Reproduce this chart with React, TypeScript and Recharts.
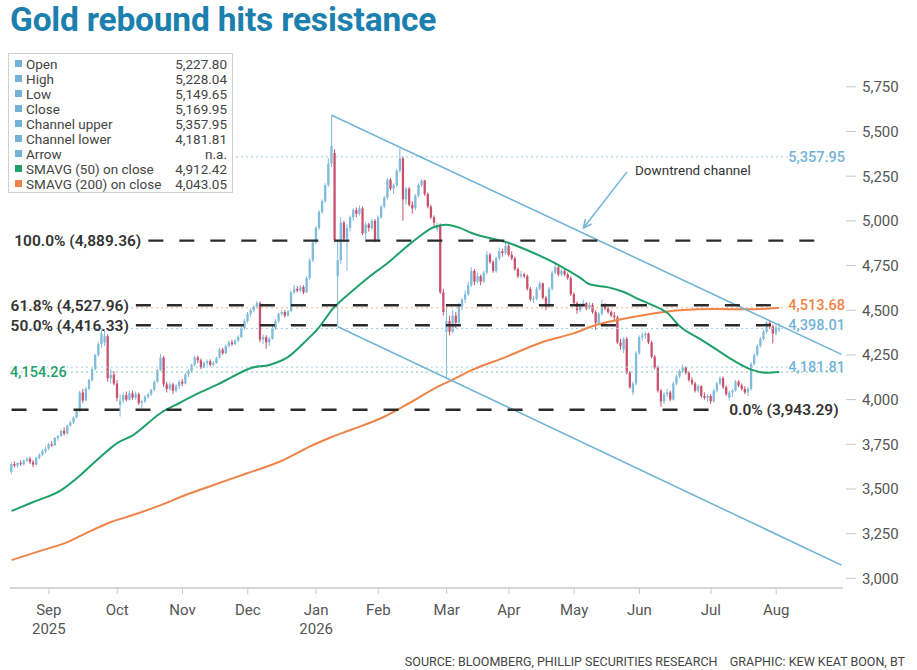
import React from "react";
import { ComposedChart, Bar, Line, XAxis, YAxis, ReferenceLine } from "recharts";

// ---- data ----
// daily candles [open, high, low, close], one small list per month
const aug25 = [
  [3595, 3650, 3585, 3640], [3640, 3655, 3620, 3630], [3630, 3650, 3620, 3645], [3645, 3660, 3630, 3638],
  [3638, 3665, 3632, 3660], [3660, 3678, 3650, 3670], [3670, 3680, 3640, 3650], [3650, 3662, 3622, 3636],
  [3636, 3680, 3632, 3675], [3675, 3700, 3665, 3690], [3690, 3722, 3684, 3712], [3712, 3738, 3700, 3726],
];
const sep25 = [
  [3726, 3760, 3718, 3750], [3750, 3768, 3734, 3744], [3744, 3790, 3740, 3785], [3785, 3802, 3770, 3796],
  [3796, 3832, 3790, 3825], [3825, 3845, 3800, 3810], [3810, 3860, 3804, 3855], [3855, 3882, 3848, 3872],
  [3872, 3906, 3862, 3900], [3900, 3942, 3894, 3935], [3935, 4050, 3930, 4040], [4040, 4060, 3980, 3995],
  [3995, 4070, 3990, 4060], [4060, 4116, 4054, 4110], [4110, 4176, 4100, 4170], [4170, 4256, 4164, 4250],
  [4250, 4322, 4240, 4310], [4310, 4390, 4290, 4370], [4320, 4386, 4300, 4355], [4355, 4365, 4100, 4120],
  [4120, 4172, 4090, 4140], [4140, 4160, 4080, 4090],
];
const oct25 = [
  [4090, 4110, 3990, 4010], [3970, 4030, 3905, 3995], [3995, 4040, 3980, 4025], [4025, 4045, 3990, 4000],
  [4000, 4050, 3995, 4035], [4035, 4050, 4000, 4010], [4010, 4045, 4000, 4030], [4030, 4040, 3970, 3980],
  [3980, 4000, 3950, 3990], [3990, 4025, 3980, 4015], [4015, 4040, 4005, 4030], [4030, 4060, 4020, 4055],
  [4055, 4110, 4045, 4100], [4100, 4170, 4095, 4165], [4165, 4255, 4160, 4235], [4235, 4245, 4070, 4085],
  [4085, 4100, 4040, 4060], [4060, 4095, 4050, 4085], [4085, 4095, 4030, 4050], [4050, 4085, 4040, 4075],
  [4075, 4110, 4060, 4100],
];
const nov25 = [
  [4100, 4115, 4075, 4090], [4090, 4150, 4085, 4140], [4140, 4170, 4125, 4160], [4160, 4200, 4150, 4195],
  [4195, 4245, 4185, 4235], [4235, 4245, 4205, 4220], [4220, 4230, 4170, 4180], [4180, 4215, 4175, 4205],
  [4205, 4225, 4190, 4215], [4215, 4225, 4185, 4195], [4195, 4215, 4185, 4205], [4205, 4240, 4200, 4235],
  [4235, 4290, 4230, 4280], [4280, 4290, 4250, 4260], [4260, 4310, 4255, 4300], [4300, 4330, 4290, 4320],
  [4320, 4335, 4300, 4310], [4310, 4340, 4305, 4330], [4330, 4360, 4320, 4350], [4350, 4410, 4345, 4400],
  [4400, 4450, 4390, 4440],
];
const dec25 = [
  [4440, 4490, 4430, 4480], [4480, 4510, 4465, 4500], [4500, 4530, 4490, 4520], [4520, 4552, 4510, 4540],
  [4540, 4550, 4320, 4335], [4335, 4365, 4310, 4350], [4350, 4360, 4285, 4320], [4320, 4350, 4300, 4340],
  [4340, 4410, 4335, 4400], [4400, 4450, 4390, 4440], [4440, 4485, 4430, 4480], [4480, 4500, 4470, 4490],
  [4490, 4500, 4460, 4470], [4470, 4500, 4465, 4495], [4495, 4610, 4490, 4600], [4600, 4640, 4590, 4620],
  [4620, 4635, 4600, 4610], [4610, 4640, 4600, 4630], [4630, 4640, 4590, 4600], [4600, 4690, 4595, 4680],
  [4680, 4790, 4670, 4780], [4780, 4890, 4770, 4880],
];
const jan26 = [
  [4880, 4970, 4870, 4960], [4960, 5060, 4950, 5050], [5050, 5120, 5040, 5110], [5110, 5210, 5100, 5200],
  [5200, 5350, 5190, 5320], [5320, 5591, 5300, 5420], [5380, 5400, 4880, 4890], [4690, 4890, 4408, 4780],
  [4780, 5020, 4760, 4990], [4990, 5000, 4880, 4900], [4900, 4980, 4720, 4960], [4960, 5030, 4940, 5020],
  [5020, 5070, 5000, 5060], [5060, 5075, 5020, 5040], [5040, 5085, 5030, 5070], [5070, 5080, 4920, 4930],
  [4930, 4995, 4900, 4980], [4980, 4990, 4940, 4960], [4960, 5010, 4950, 5000], [5000, 5010, 4880, 4890],
];
const feb26 = [
  [4890, 5030, 4880, 5020], [5020, 5090, 5010, 5080], [5080, 5140, 5070, 5130], [5130, 5240, 5120, 5230],
  [5230, 5240, 5170, 5180], [5180, 5210, 5150, 5200], [5200, 5290, 5190, 5280], [5280, 5405, 5270, 5350],
  [5350, 5360, 5000, 5120], [5120, 5190, 5090, 5180], [5180, 5190, 5080, 5090], [5090, 5110, 5040, 5070],
  [5070, 5150, 5060, 5140], [5140, 5210, 5130, 5200], [5200, 5235, 5190, 5225], [5225, 5230, 5140, 5150],
  [5150, 5160, 5070, 5080], [5080, 5090, 5010, 5020], [5020, 5030, 4970, 4990], [4955, 4990, 4940, 4975],
  [4975, 4985, 4590, 4600], [4600, 4620, 4470, 4490],
];
const mar26 = [
  [4380, 4520, 4115, 4440], [4440, 4470, 4360, 4380], [4380, 4500, 4370, 4470], [4470, 4490, 4400, 4430],
  [4430, 4540, 4420, 4520], [4520, 4570, 4500, 4560], [4560, 4610, 4540, 4590], [4590, 4660, 4580, 4640],
  [4640, 4740, 4630, 4720], [4720, 4730, 4640, 4660], [4660, 4710, 4650, 4690], [4690, 4700, 4640, 4660],
  [4660, 4720, 4650, 4710], [4710, 4830, 4700, 4810], [4810, 4820, 4760, 4770], [4770, 4780, 4710, 4720],
  [4720, 4800, 4710, 4790], [4790, 4850, 4780, 4830], [4830, 4845, 4800, 4820], [4820, 4885, 4810, 4860],
];
const apr26 = [
  [4860, 4870, 4800, 4810], [4810, 4830, 4780, 4790], [4790, 4800, 4720, 4730], [4730, 4740, 4680, 4690],
  [4690, 4720, 4680, 4700], [4700, 4710, 4680, 4690], [4690, 4700, 4610, 4620], [4620, 4630, 4550, 4560],
  [4560, 4580, 4540, 4565], [4565, 4630, 4555, 4620], [4620, 4660, 4610, 4650], [4650, 4655, 4560, 4570],
  [4570, 4580, 4500, 4520], [4520, 4630, 4515, 4620], [4620, 4720, 4610, 4710], [4710, 4770, 4700, 4740],
  [4740, 4750, 4690, 4700], [4700, 4730, 4690, 4720], [4720, 4730, 4690, 4700], [4700, 4710, 4670, 4680],
  [4680, 4690, 4580, 4590],
];
const may26 = [
  [4590, 4600, 4530, 4540], [4540, 4550, 4480, 4500], [4500, 4540, 4490, 4530], [4530, 4560, 4520, 4540],
  [4540, 4545, 4500, 4510], [4510, 4545, 4505, 4530], [4530, 4540, 4480, 4490], [4490, 4500, 4390, 4430],
  [4430, 4490, 4420, 4480], [4480, 4560, 4470, 4530], [4530, 4540, 4500, 4510], [4510, 4520, 4480, 4490],
  [4490, 4500, 4460, 4470], [4470, 4490, 4440, 4460], [4460, 4470, 4310, 4320], [4320, 4340, 4280, 4300],
  [4280, 4350, 4260, 4340], [4340, 4350, 4140, 4150], [4150, 4160, 4060, 4070], [4040, 4100, 4025, 4090],
  [4090, 4270, 4080, 4260],
];
const jun26 = [
  [4260, 4360, 4250, 4350], [4350, 4375, 4330, 4360], [4360, 4380, 4340, 4370], [4370, 4375, 4310, 4320],
  [4320, 4330, 4230, 4240], [4240, 4250, 4170, 4180], [4180, 4190, 4040, 4050], [4050, 4060, 3960, 3990],
  [3990, 4040, 3975, 4030], [4030, 4060, 4015, 4040], [4040, 4050, 3990, 4000], [4000, 4100, 3995, 4090],
  [4090, 4140, 4080, 4130], [4130, 4170, 4120, 4160], [4160, 4195, 4150, 4180], [4180, 4185, 4140, 4150],
  [4150, 4160, 4100, 4110], [4110, 4125, 4080, 4090], [4090, 4100, 4040, 4050], [4050, 4085, 4040, 4075],
  [4075, 4080, 4010, 4020], [4020, 4040, 4000, 4010], [4010, 4030, 3985, 4020],
];
const jul26 = [
  [4020, 4030, 3975, 3990], [3990, 4060, 3985, 4050], [4050, 4100, 4040, 4090], [4090, 4130, 4080, 4120],
  [4120, 4130, 4060, 4070], [4070, 4080, 4020, 4030], [4010, 4050, 3995, 4040], [4040, 4060, 4015, 4050],
  [4050, 4110, 4045, 4100], [4100, 4110, 4070, 4080], [4080, 4090, 4050, 4060], [4060, 4075, 4030, 4040],
  [4040, 4070, 4020, 4060], [4060, 4210, 4050, 4200], [4200, 4260, 4190, 4250], [4250, 4310, 4240, 4300],
  [4300, 4350, 4290, 4340], [4340, 4390, 4330, 4380], [4380, 4440, 4370, 4430], [4430, 4440, 4395, 4410],
  [4410, 4420, 4315, 4370],
];
const aug26 = [
  [4370, 4420, 4360, 4405], [4390, 4430, 4380, 4398.01],
];

// moving averages read at sample days: [day index, value]
const sma50Pts = [
  [0, 3377], [7, 3427], [16, 3494], [22, 3575], [28, 3670], [34, 3757], [39, 3800], [48, 3925],
  [54, 3981], [61, 4043], [66, 4082], [71, 4127], [77, 4177], [83, 4194], [89, 4239], [95, 4334],
  [99, 4406], [103, 4501], [110, 4613], [115, 4686], [121, 4764], [127, 4854], [131, 4910], [136, 4966],
  [140, 4978], [144, 4962], [148, 4932], [160, 4876], [168, 4820], [176, 4753], [183, 4681], [186, 4645],
  [192, 4628], [197, 4602], [202, 4560], [206, 4530], [211, 4484], [215, 4410], [222, 4334], [227, 4278],
  [232, 4222], [238, 4168], [243, 4150], [247, 4154.26],
];
const sma200Pts = [
  [0, 3102], [10, 3158], [18, 3203], [24, 3253], [32, 3315], [39, 3354], [48, 3410], [56, 3466],
  [65, 3522], [76, 3589], [86, 3651], [97, 3746], [103, 3791], [109, 3830], [119, 3897], [128, 3981],
  [138, 4080], [141, 4103], [148, 4165], [159, 4238], [170, 4317], [181, 4372], [188, 4417], [195, 4445],
  [205, 4478], [215, 4500], [226, 4507], [237, 4505], [247, 4513.68],
];

// downtrend channel end points: [day index, value]
const channelUpperPts = [[103, 5591], [267, 4253]];
const channelLowerPts = [[105, 4408], [267, 3074]];

// Fibonacci levels
const fibNames = ["100.0%", "61.8%", "50.0%", "0.0%"];
const fibValues = [4889.36, 4527.96, 4416.33, 3943.29];

// last-value tags
const tagValues = [5357.95, 4513.68, 4398.01, 4181.81, 4154.26];

// x ticks (day index of month start) and labels
const monthTickIdx = [12, 34, 55, 76, 98, 118, 140, 160, 181, 202, 225, 246];
const monthLabels = ["Sep", "Oct", "Nov", "Dec", "Jan", "Feb", "Mar", "Apr", "May", "Jun", "Jul", "Aug"];
const yearLabels = ["2025", "", "", "", "2026", "", "", "", "", "", "", ""];
const priceTicks = [3000, 3250, 3500, 3750, 4000, 4250, 4500, 4750, 5000, 5250, 5500, 5750];

// legend table
const legendNames = [
  "Open", "High", "Low", "Close", "Channel upper", "Channel lower", "Arrow",
  "SMAVG (50) on close", "SMAVG (200) on close",
];
const legendValues = [
  "5,227.80", "5,228.04", "5,149.65", "5,169.95", "5,357.95", "4,181.81", "n.a.", "4,912.42", "4,043.05",
];

// ---- styles / layout ----
const FONT = "Roboto, 'Liberation Sans', Arial, sans-serif";
const UP = "#80bbdc";
const DOWN = "#c9536d";
const BLUE = "#72b4d8";
const GREEN = "#1f9f6a";
const ORANGE = "#ef8448";
const TOTAL_SLOTS = 268;
const fibSpan = [[44, 263], [40, 247], [40, 247], [0, 228]];
const fibSide = ["left", "left", "left", "right"];
const tagColors = [BLUE, ORANGE, BLUE, BLUE, GREEN];
const tagLineColors = ["#9fcbe3", "#f4b48c", "#9fcbe3", "#9fcbe3", "#7cc7a4"];
const tagSide = ["right", "right", "right", "right", "left"];
const tagShift = [0, -3, -4, 0, 0];
const legendColors = [BLUE, BLUE, BLUE, BLUE, BLUE, BLUE, BLUE, GREEN, ORANGE];

const candles = [
  ...aug25, ...sep25, ...oct25, ...nov25, ...dec25, ...jan26,
  ...feb26, ...mar26, ...apr26, ...may26, ...jun26, ...jul26, ...aug26,
];

const toMap = (pts: number[][]) => new Map(pts.map(([i, v]) => [i, v]));
const sma50Map = toMap(sma50Pts);
const sma200Map = toMap(sma200Pts);
const upperMap = toMap(channelUpperPts);
const lowerMap = toMap(channelLowerPts);

const rows = Array.from({ length: TOTAL_SLOTS }, (_, i) => {
  const k = candles[i];
  return {
    i,
    o: k ? k[0] : null,
    h: k ? k[1] : null,
    l: k ? k[2] : null,
    c: k ? k[3] : null,
    range: k ? [k[2], k[1]] : null,
    sma50: sma50Map.get(i) ?? null,
    sma200: sma200Map.get(i) ?? null,
    chUp: upperMap.get(i) ?? null,
    chLow: lowerMap.get(i) ?? null,
  };
});

const fmt = (v: number) =>
  v.toLocaleString("en-US", { minimumFractionDigits: 2, maximumFractionDigits: 2 });

function Candle(props: any) {
  const { x, y, width, height, payload } = props;
  if (!payload || payload.o == null) return null;
  const { o, h, l, c } = payload;
  const color = c >= o ? UP : DOWN;
  const cx = x + width / 2;
  const top = Math.min(y, y + height);
  const span = Math.abs(height);
  const py = (v: number) => top + ((h - v) / (h - l || 1)) * span;
  const bTop = py(Math.max(o, c));
  const bBot = py(Math.min(o, c));
  const bw = 2.3;
  return (
    <g>
      <line x1={cx} x2={cx} y1={top} y2={top + span} stroke={color} strokeWidth={1} />
      <rect x={cx - bw / 2} y={bTop} width={bw} height={Math.max(1, bBot - bTop)} fill={color} />
    </g>
  );
}

function MonthTick(props: any) {
  const { x, y, payload } = props;
  const k = monthTickIdx.indexOf(Number(payload.value));
  if (k < 0) return null;
  return (
    <g>
      <text x={x} y={y + 21} textAnchor="middle" fontSize={15} fill="#555" fontFamily={FONT}>
        {monthLabels[k]}
      </text>
      {yearLabels[k] ? (
        <text x={x} y={y + 40} textAnchor="middle" fontSize={15} fill="#555" fontFamily={FONT}>
          {yearLabels[k]}
        </text>
      ) : null}
    </g>
  );
}

function PriceTick(props: any) {
  const { x, y, payload } = props;
  return (
    <g>
      <line x1={x + 3} x2={x + 13} y1={y} y2={y} stroke="#c8c8c8" strokeWidth={1} />
      <text x={x + 19} y={y} dy="0.36em" fontSize={15} fill="#555" fontFamily={FONT}>
        {Number(payload.value).toLocaleString("en-US")}
      </text>
    </g>
  );
}

function FibTag(props: any) {
  const { viewBox, text, side } = props;
  if (!viewBox) return null;
  const right = side === "right";
  return (
    <text
      x={right ? viewBox.x + viewBox.width + 9 : viewBox.x - 7}
      y={viewBox.y}
      dy="0.36em"
      textAnchor={right ? "start" : "end"}
      fontSize={15.5}
      fontWeight={600}
      fill="#333"
      fontFamily={FONT}
    >
      {text}
    </text>
  );
}

function ValueTag(props: any) {
  const { viewBox, text, color, side, shift } = props;
  if (!viewBox) return null;
  const left = side === "left";
  return (
    <text
      x={left ? viewBox.x : viewBox.x + viewBox.width + 2}
      y={viewBox.y + (shift || 0)}
      dy="0.36em"
      textAnchor={left ? "start" : "end"}
      fontSize={14.5}
      fontWeight={500}
      fill={color}
      stroke="#fff"
      strokeWidth={3}
      style={{ paintOrder: "stroke" }}
      fontFamily={FONT}
    >
      {text}
    </text>
  );
}

function ArrowShape(props: any) {
  const { x1, y1, x2, y2 } = props;
  const a = Math.atan2(y2 - y1, x2 - x1);
  const L = 9;
  const p1 = [x2 - L * Math.cos(a - 0.45), y2 - L * Math.sin(a - 0.45)];
  const p2 = [x2 - L * Math.cos(a + 0.45), y2 - L * Math.sin(a + 0.45)];
  return (
    <g stroke={BLUE} strokeWidth={1.5} fill="none">
      <line x1={x1} y1={y1} x2={x2} y2={y2} />
      <polyline points={`${p1[0]},${p1[1]} ${x2},${y2} ${p2[0]},${p2[1]}`} />
    </g>
  );
}

function ArrowTag(props: any) {
  const { viewBox } = props;
  if (!viewBox) return null;
  return (
    <text
      x={viewBox.x + viewBox.width + 8}
      y={viewBox.y - 2}
      dy="0.36em"
      fontSize={13.5}
      fill="#333"
      fontFamily={FONT}
    >
      Downtrend channel
    </text>
  );
}

export default function App() {
  return (
    <div
      style={{
        position: "absolute",
        left: 0,
        top: 0,
        width: 917,
        height: 670,
        background: "#fff",
        fontFamily: FONT,
        overflow: "hidden",
      }}
    >
      <ComposedChart
        width={917}
        height={670}
        data={rows}
        margin={{ top: 70, right: 0, left: 10, bottom: 32 }}
      >
        <XAxis
          dataKey="i"
          type="category"
          ticks={monthTickIdx}
          interval={0}
          tick={<MonthTick />}
          tickSize={6}
          tickMargin={0}
          tickLine={{ stroke: "#c8c8c8" }}
          axisLine={{ stroke: "#c8c8c8", strokeWidth: 1.5 }}
          height={50}
        />
        <YAxis
          orientation="right"
          width={74}
          domain={[2946, 5844]}
          allowDataOverflow
          ticks={priceTicks}
          tick={<PriceTick />}
          tickSize={0}
          tickMargin={0}
          axisLine={false}
          tickLine={false}
        />

        {tagValues.map((v, k) => (
          <ReferenceLine
            key={`tag-${k}`}
            y={v}
            stroke={tagLineColors[k]}
            strokeWidth={1}
            strokeDasharray="2 3"
            label={<ValueTag text={fmt(v)} color={tagColors[k]} side={tagSide[k]} shift={tagShift[k]} />}
          />
        ))}

        <Line dataKey="sma200" stroke={ORANGE} strokeWidth={2} dot={false} type="monotone" connectNulls isAnimationActive={false} />
        <Line dataKey="sma50" stroke={GREEN} strokeWidth={2} dot={false} type="monotone" connectNulls isAnimationActive={false} />

        <Bar dataKey="range" shape={(p: any) => <Candle {...p} />} isAnimationActive={false} barCategoryGap={0} />

        <Line dataKey="chUp" stroke={BLUE} strokeWidth={1.6} dot={false} type="linear" connectNulls isAnimationActive={false} />
        <Line dataKey="chLow" stroke={BLUE} strokeWidth={1.6} dot={false} type="linear" connectNulls isAnimationActive={false} />

        {fibValues.map((v, k) => (
          <ReferenceLine
            key={`fib-${k}`}
            segment={[
              { x: fibSpan[k][0], y: v },
              { x: fibSpan[k][1], y: v },
            ]}
            stroke="#2b2b2b"
            strokeWidth={2.4}
            strokeDasharray="15 16"
            ifOverflow="visible"
            label={<FibTag text={`${fibNames[k]} (${fmt(v)})`} side={fibSide[k]} />}
          />
        ))}

        <ReferenceLine
          segment={[
            { x: 198, y: 5274 },
            { x: 184, y: 4960 },
          ]}
          shape={(p: any) => <ArrowShape {...p} />}
          ifOverflow="visible"
          label={<ArrowTag />}
        />
      </ComposedChart>

      <div
        style={{
          position: "absolute",
          left: 10,
          top: 3,
          fontSize: 33.5,
          fontWeight: 700,
          letterSpacing: -0.2,
          color: "#1b80ad",
          lineHeight: "34px",
          whiteSpace: "nowrap",
        }}
      >
        Gold rebound hits resistance
      </div>

      <div
        style={{
          position: "absolute",
          left: 8,
          top: 53,
          width: 225,
          height: 140,
          boxSizing: "border-box",
          border: "1.5px solid #cfcfcf",
          background: "#fff",
          padding: "2px 5px 0 6px",
          fontSize: 13.5,
          color: "#444",
        }}
      >
        {legendNames.map((name, k) => (
          <div key={name} style={{ display: "flex", alignItems: "center", height: 15 }}>
            <span
              style={{ width: 7, height: 7, background: legendColors[k], marginRight: 4, flex: "none" }}
            />
            <span style={{ flex: 1, whiteSpace: "nowrap" }}>{name}</span>
            <span style={{ whiteSpace: "nowrap" }}>{legendValues[k]}</span>
          </div>
        ))}
      </div>

      <div
        style={{
          position: "absolute",
          right: 12,
          top: 654,
          fontSize: 12.5,
          color: "#444",
          whiteSpace: "nowrap",
        }}
      >
        SOURCE: BLOOMBERG, PHILLIP SECURITIES RESEARCH&nbsp;&nbsp;&nbsp;&nbsp;GRAPHIC: KEW KEAT BOON, BT
      </div>
    </div>
  );
}
